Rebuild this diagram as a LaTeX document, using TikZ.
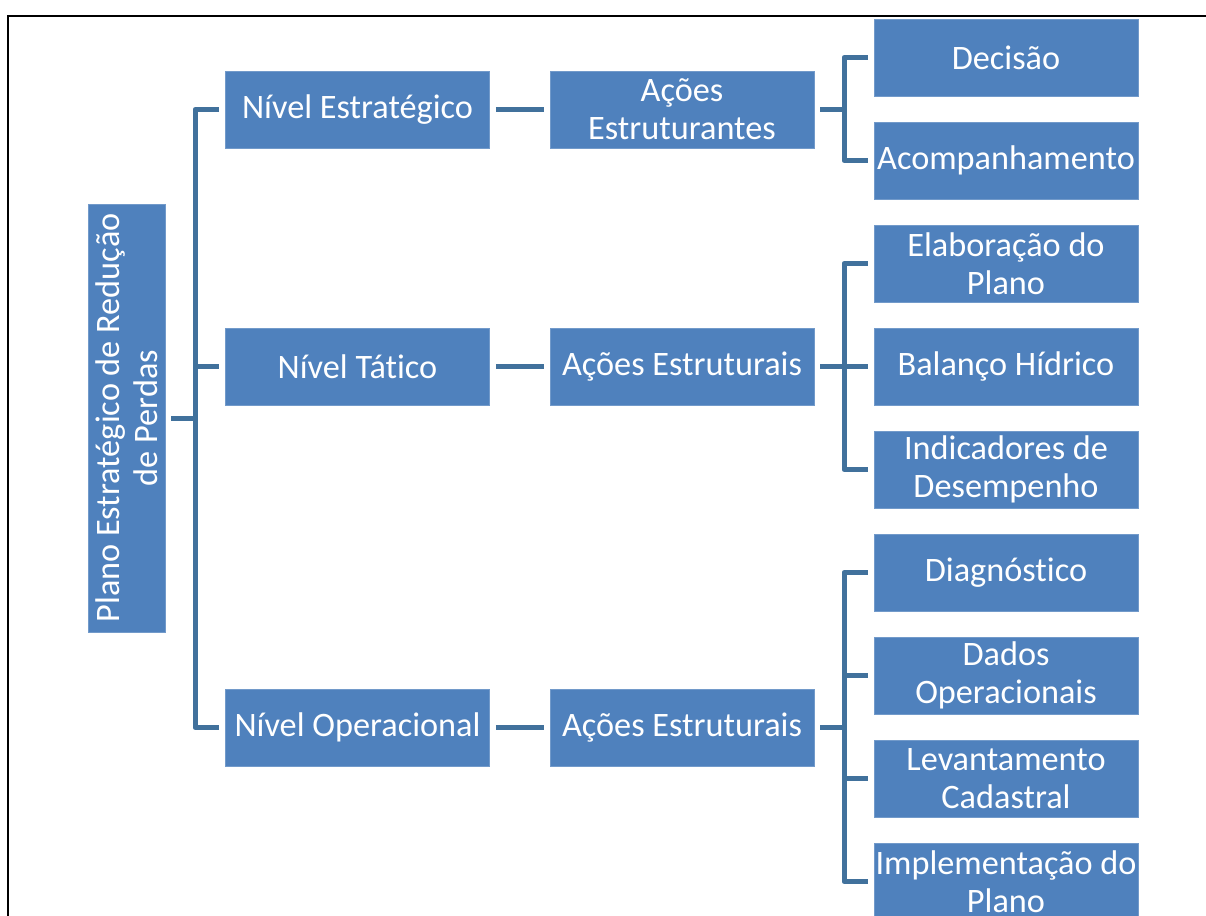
\documentclass[tikz,border=0pt]{standalone}
\usepackage{fontspec}
\setmainfont{Carlito}[Ligatures=NoCommon]
\definecolor{boxblue}{HTML}{4F81BD}
\definecolor{linkblue}{HTML}{41719C}
\begin{document}
\begin{tikzpicture}[x=0.75pt,y=-0.75pt,
  box/.style={fill=boxblue,draw=boxblue!80!white,line width=0.5pt,text=white,
    font=\fontsize{25.7}{28.5}\selectfont,align=center,inner sep=0pt,
    minimum width=198pt,minimum height=57.75pt},
  conn/.style={draw=linkblue,line width=3.75pt,line join=round},
  frame/.style={draw=black,line width=1.6pt}]
\useasboundingbox (0,0) rectangle (1206,916);
\draw[frame] (1206,16) -- (8,16) -- (8,916);
% root
\node[box,minimum width=57.75pt,minimum height=321pt] (root) at (126.5,418) {};
\node[text=white,font=\fontsize{25.7}{28.5}\selectfont,align=center,rotate=90,inner sep=0pt] (roottext) at (root.center) {Plano Estratégico de Redução\\de Perdas};
% level 1
\node[box] (l1a) at (357.5,109.5) {Nível Estratégico};
\node[box] (l1b) at (357.5,366.5) {Nível Tático};
\node[box] (l1c) at (357.5,727.5) {Nível Operacional};
% level 2
\node[box] (l2a) at (682,109.5) {Ações\\Estruturantes};
\node[box] (l2b) at (682,366.5) {Ações Estruturais};
\node[box] (l2c) at (682,727.5) {Ações Estruturais};
% level 3
\node[box] (c1) at (1006,57.5) {Decisão};
\node[box] (c2) at (1006,160.5) {Acompanhamento};
\node[box] (c3) at (1006,263.5) {Elaboração do\\Plano};
\node[box] (c4) at (1006,366.5) {Balanço Hídrico};
\node[box] (c5) at (1006,469.5) {Indicadores de\\Desempenho};
\node[box] (c6) at (1006,572.5) {Diagnóstico};
\node[box] (c7) at (1006,675.5) {Dados\\Operacionais};
\node[box] (c8) at (1006,778.5) {Levantamento\\Cadastral};
\node[box] (c9) at (1006,881.5) {Implementação do\\Plano};
% buses
\coordinate (rb) at (195,418);
\coordinate (ba) at (844,109.5);
\coordinate (bb) at (844,366.5);
\coordinate (bc) at (844,727.5);
% root connectors
\draw[conn] ([xshift=4.5pt]root.east) -- (rb);
\draw[conn] ([xshift=-4.5pt]l1a.west) -| (rb) |- ([xshift=-4.5pt]l1c.west);
\draw[conn] (rb |- l1b.west) -- ([xshift=-4.5pt]l1b.west);
% level1 -> level2
\draw[conn] ([xshift=4.5pt]l1a.east) -- ([xshift=-4.5pt]l2a.west);
\draw[conn] ([xshift=4.5pt]l1b.east) -- ([xshift=-4.5pt]l2b.west);
\draw[conn] ([xshift=4.5pt]l1c.east) -- ([xshift=-4.5pt]l2c.west);
% level2 -> level3
\draw[conn] ([xshift=4.5pt]l2a.east) -- (ba);
\draw[conn] ([xshift=-4.5pt]c1.west) -| (ba) |- ([xshift=-4.5pt]c2.west);
\draw[conn] ([xshift=4.5pt]l2b.east) -- (bb);
\draw[conn] ([xshift=-4.5pt]c3.west) -| (bb) |- ([xshift=-4.5pt]c5.west);
\draw[conn] (bb |- c4.west) -- ([xshift=-4.5pt]c4.west);
\draw[conn] ([xshift=4.5pt]l2c.east) -- (bc);
\draw[conn] ([xshift=-4.5pt]c6.west) -| (bc) |- ([xshift=-4.5pt]c9.west);
\draw[conn] (bc |- c7.west) -- ([xshift=-4.5pt]c7.west);
\draw[conn] (bc |- c8.west) -- ([xshift=-4.5pt]c8.west);
\end{tikzpicture}
\end{document}
